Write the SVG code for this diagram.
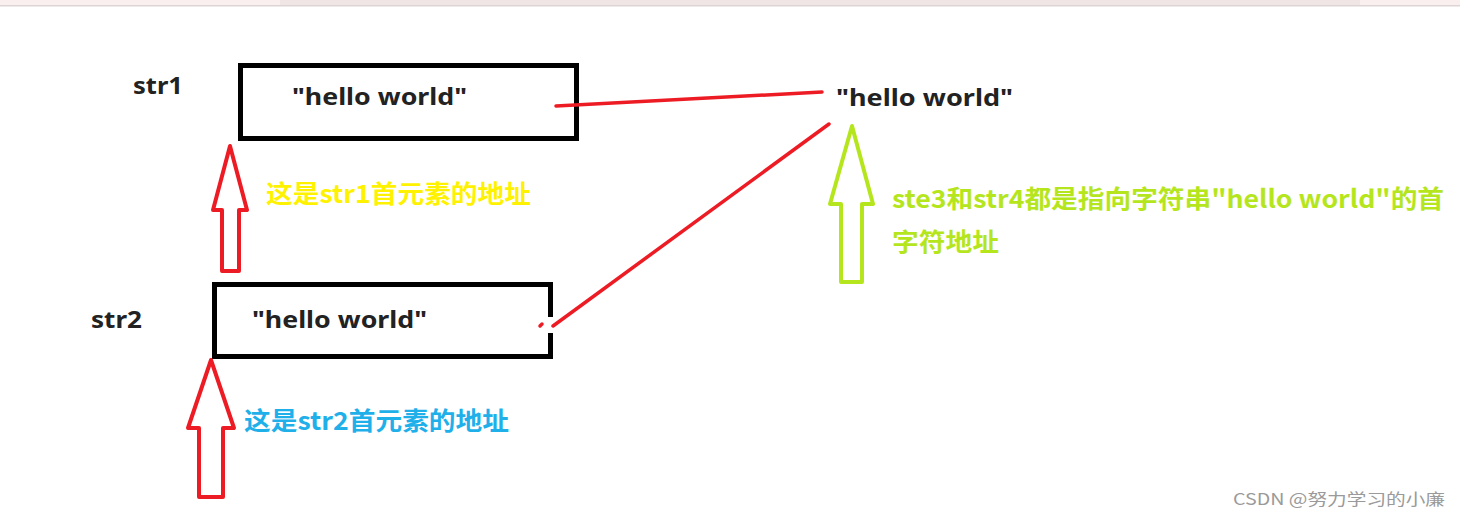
<svg xmlns="http://www.w3.org/2000/svg" width="1460" height="518" viewBox="0 0 1460 518">
<style>
.lbl{font-family:"Noto Sans","Noto Sans CJK SC",sans-serif;font-weight:bold;fill:#222;}
.cjk{font-family:"Noto Sans CJK SC","Noto Sans",sans-serif;font-weight:bold;}
.box{fill:none;stroke:#000;stroke-width:5;}
.red{fill:none;stroke:#ed1c24;stroke-width:4;stroke-linejoin:round;}
.grn{fill:none;stroke:#b5e61d;stroke-width:4;stroke-linejoin:round;}
.wire{stroke:#ed1c24;stroke-width:3.5;stroke-linecap:round;fill:none;}
</style>
<rect x="0" y="0" width="1460" height="518" fill="#fff"/>
<g id="topbar">
<rect x="0" y="0" width="1460" height="5" fill="#f9efee"/>
<rect x="280" y="0" width="1080" height="5" fill="#efe5e4"/>
<rect x="0" y="5" width="1460" height="1.5" fill="#ddd5d5"/>
</g>
<g id="str1">
<text class="lbl" x="133" y="94" font-size="24" textLength="50" lengthAdjust="spacingAndGlyphs">str1</text>
<rect class="box" x="240.5" y="65.5" width="336" height="73"/>
<text class="lbl" x="292" y="105" font-size="24" textLength="175" lengthAdjust="spacingAndGlyphs">"hello world"</text>
</g>
<g id="str2">
<text class="lbl" x="91" y="328" font-size="24" textLength="51" lengthAdjust="spacingAndGlyphs">str2</text>
<path class="box" d="M550.5 317 V284.5 H214.5 V356.5 H550.5 V333"/>
<text class="lbl" x="252" y="328" font-size="24" textLength="175" lengthAdjust="spacingAndGlyphs">"hello world"</text>
</g>
<g id="literal">
<text class="lbl" x="836" y="106" font-size="24" textLength="177" lengthAdjust="spacingAndGlyphs">"hello world"</text>
</g>
<g id="connectors">
<path class="wire" d="M556 106 L822 92"/>
<path class="wire" d="M553 326 L829 124"/>
<path class="wire" d="M540 326 L542 324"/>
</g>
<g id="arrow1">
<path class="red" d="M230 146 L247 210 L239 210 L239 271 L222 271 L222 210 L213 210 Z"/>
</g>
<g id="arrow2">
<path class="red" d="M211 360 L234 428 L223 428 L223 497 L199 497 L199 428 L188 428 Z"/>
</g>
<g id="arrow3">
<path class="grn" d="M852 126 L873 204 L862 204 L862 282 L841 282 L841 204 L830 204 Z"/>
</g>
<g id="notes">
<text class="cjk" x="266" y="203" font-size="25" fill="#fff200" textLength="265" lengthAdjust="spacingAndGlyphs">这是str1首元素的地址</text>
<text class="cjk" x="244" y="430" font-size="25" fill="#1fb0ea" textLength="265" lengthAdjust="spacingAndGlyphs">这是str2首元素的地址</text>
<text class="cjk" x="892" y="208" font-size="25" fill="#b5e61d" textLength="552" lengthAdjust="spacingAndGlyphs">ste3和str4都是指向字符串"hello world"的首</text>
<text class="cjk" x="892" y="251" font-size="25" fill="#b5e61d" textLength="107" lengthAdjust="spacingAndGlyphs">字符地址</text>
</g>
<g id="watermark">
<text x="1233" y="505" font-family="'Noto Sans CJK SC',sans-serif" font-size="16" fill="#9a9a9a" textLength="212" lengthAdjust="spacingAndGlyphs">CSDN @努力学习的小廉</text>
</g>
</svg>
